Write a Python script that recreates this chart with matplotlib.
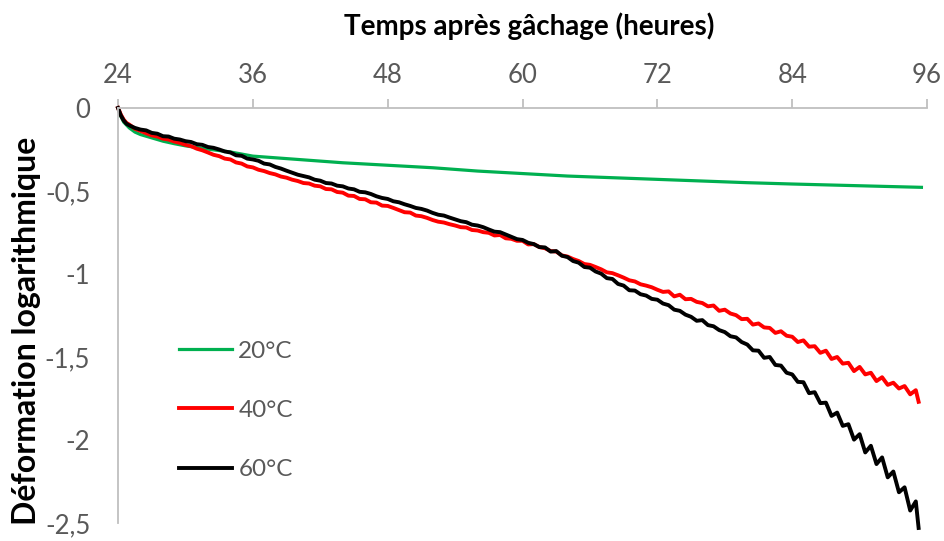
import numpy as np
import matplotlib
matplotlib.use("Agg")
import matplotlib.pyplot as plt
from matplotlib.ticker import FuncFormatter, MultipleLocator

plt.rcParams['font.family'] = ['Lato', 'DejaVu Sans']

# heures après gâchage
hours = [24, 24.25, 24.5, 24.75] + list(np.arange(25, 95.01, 0.5)) + [95.25]

green_h = [24, 24.25, 24.5, 25, 25.5, 26, 27, 28, 29, 30, 32, 34, 36, 40, 44, 48,
           52, 56, 60, 64, 68, 72, 76, 80, 84, 88, 92, 95.5]
green_v = [0, -0.05, -0.085, -0.12, -0.145, -0.16, -0.18, -0.20, -0.215, -0.228,
           -0.248, -0.265, -0.29, -0.31, -0.33, -0.345, -0.36, -0.38, -0.395, -0.41,
           -0.42, -0.43, -0.44, -0.45, -0.458, -0.465, -0.472, -0.478]

red_v = [0, -0.04, -0.07, -0.09,
         -0.10, -0.125, -0.138, -0.152, -0.165, -0.172, -0.185, -0.19, -0.202, -0.21,
         -0.222, -0.23, -0.245, -0.255, -0.268, -0.282, -0.29, -0.305, -0.31, -0.328,
         -0.335, -0.352, -0.358, -0.372, -0.38, -0.392, -0.40, -0.413, -0.42, -0.432,
         -0.44, -0.452, -0.455, -0.468, -0.472, -0.488, -0.49, -0.506, -0.51, -0.528,
         -0.53, -0.548, -0.55, -0.568, -0.57, -0.588, -0.59, -0.602, -0.615, -0.628,
         -0.63, -0.648, -0.652, -0.662, -0.675, -0.685, -0.69, -0.70, -0.708, -0.718,
         -0.72, -0.735, -0.738, -0.748, -0.752, -0.768, -0.765, -0.785, -0.788, -0.80,
         -0.80, -0.822, -0.82, -0.838, -0.845, -0.862, -0.865, -0.888, -0.895, -0.91,
         -0.922, -0.94, -0.945, -0.958, -0.972, -0.99, -0.995, -1.008, -1.022, -1.038,
         -1.045, -1.062, -1.07, -1.08, -1.095, -1.108, -1.105, -1.135, -1.125, -1.152,
         -1.15, -1.168, -1.175, -1.195, -1.19, -1.222, -1.215, -1.238, -1.248, -1.272,
         -1.27, -1.305, -1.298, -1.322, -1.325, -1.355, -1.345, -1.372, -1.378, -1.41,
         -1.40, -1.438, -1.435, -1.475, -1.462, -1.512, -1.50, -1.54, -1.535, -1.585,
         -1.56, -1.605, -1.595, -1.645, -1.622, -1.668, -1.655, -1.69, -1.675, -1.725,
         -1.70, -1.77]

black_v = [0, -0.045, -0.075, -0.095,
           -0.105, -0.12, -0.13, -0.135, -0.15, -0.155, -0.17, -0.172, -0.185, -0.19,
           -0.20, -0.205, -0.218, -0.222, -0.235, -0.24, -0.25, -0.262, -0.268, -0.285,
           -0.288, -0.305, -0.31, -0.318, -0.335, -0.34, -0.355, -0.365, -0.378, -0.39,
           -0.402, -0.41, -0.418, -0.432, -0.438, -0.452, -0.455, -0.468, -0.472, -0.485,
           -0.49, -0.505, -0.508, -0.518, -0.532, -0.542, -0.548, -0.562, -0.568, -0.58,
           -0.59, -0.602, -0.608, -0.618, -0.632, -0.643, -0.648, -0.66, -0.671, -0.682,
           -0.688, -0.703, -0.708, -0.718, -0.732, -0.745, -0.748, -0.762, -0.776, -0.79,
           -0.795, -0.812, -0.82, -0.838, -0.84, -0.865, -0.862, -0.89, -0.898, -0.922,
           -0.932, -0.958, -0.962, -0.985, -0.998, -1.025, -1.03, -1.06, -1.07, -1.098,
           -1.10, -1.122, -1.13, -1.15, -1.155, -1.178, -1.188, -1.215, -1.222, -1.245,
           -1.258, -1.282, -1.278, -1.308, -1.315, -1.338, -1.35, -1.375, -1.382, -1.41,
           -1.425, -1.46, -1.462, -1.505, -1.50, -1.548, -1.552, -1.595, -1.605, -1.65,
           -1.652, -1.718, -1.712, -1.778, -1.775, -1.855, -1.835, -1.915, -1.905, -1.998,
           -1.965, -2.075, -2.035, -2.145, -2.105, -2.225, -2.19, -2.315, -2.285, -2.425,
           -2.37, -2.53]

labels = ["20°C", "40°C", "60°C"]
colors = ["#00b050", "#ff0000", "#000000"]

fig = plt.figure(figsize=(9.45, 5.41), dpi=100)
ax = fig.add_axes([0.1249, 0.0333, 0.981 - 0.1249, 0.8004 - 0.0333])

ax.plot(green_h, green_v, color=colors[0], lw=2.3, label=labels[0])
ax.plot(hours, red_v, color=colors[1], lw=2.8, label=labels[1], clip_on=False)
ax.plot(hours, black_v, color=colors[2], lw=2.8, label=labels[2], clip_on=False)

ax.set_xlim(24, 96)
ax.set_ylim(-2.5, 0)
ax.xaxis.set_major_locator(MultipleLocator(12))
ax.yaxis.set_major_locator(MultipleLocator(0.5))
ax.yaxis.set_major_formatter(FuncFormatter(lambda v, p: f"{v:g}".replace(".", ",")))

ax.xaxis.tick_top()
for sp in ["right", "bottom"]:
    ax.spines[sp].set_visible(False)
for sp in ["top", "left"]:
    ax.spines[sp].set_color("#bfbfbf")
    ax.spines[sp].set_linewidth(1.3)

ax.tick_params(axis="x", direction="out", length=6.5, width=1.3, color="#bfbfbf",
               labelsize=18.5, labelcolor="#595959", pad=8)
ax.tick_params(axis="y", length=0, labelsize=18.5, labelcolor="#595959", pad=20)

fig.text(529 / 945, 1 - 26 / 541, "Temps après gâchage (heures)", ha="center",
         va="center", fontsize=20, fontweight="bold")
fig.text(27 / 945, 1 - 331 / 541, "Déformation logarithmique", ha="center",
         va="center", rotation=90, fontsize=23, fontweight="bold")

leg = ax.legend(loc="upper left", bbox_to_anchor=(0.06, 0.469), frameon=False,
                fontsize=17.5, labelcolor="#595959", handlelength=2.2,
                handletextpad=0.25, labelspacing=1.58, borderpad=0)

fig.savefig("out.png", dpi=100)
